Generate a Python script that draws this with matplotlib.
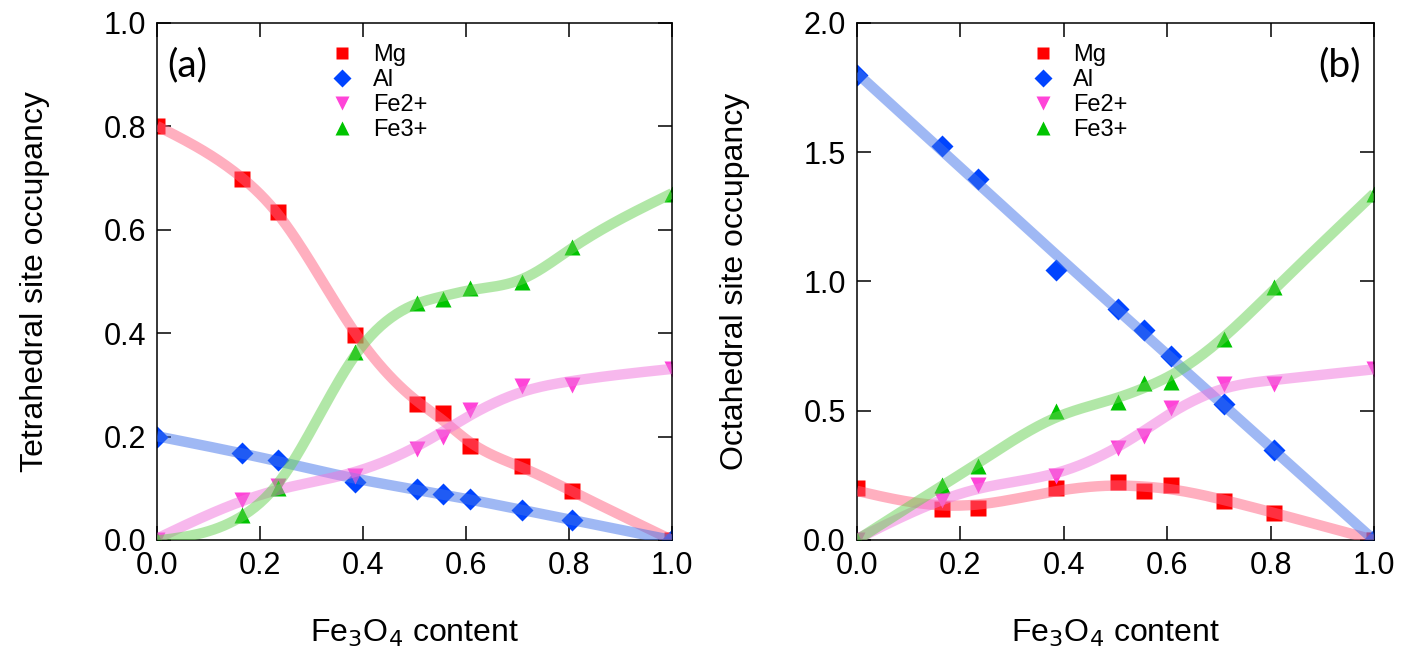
import numpy as np
import matplotlib
matplotlib.use("Agg")
import matplotlib.pyplot as plt

plt.rcParams['font.family'] = ['Liberation Sans', 'DejaVu Sans']

# Fe3O4 content of the samples
x = [0.0, 0.165, 0.235, 0.385, 0.505, 0.555, 0.607, 0.709, 0.806, 1.0]

# (a) tetrahedral site
tet_mg = [0.800, 0.699, 0.635, 0.397, 0.263, 0.245, 0.181, 0.143, 0.094, 0.0]
tet_al = [0.200, 0.168, 0.155, 0.113, 0.099, 0.089, 0.079, 0.058, 0.038, 0.0]
tet_fe2 = [0.0, 0.077, 0.105, 0.124, 0.175, 0.200, 0.252, 0.298, 0.300, 0.330]
tet_fe3 = [0.0, 0.048, 0.101, 0.364, 0.459, 0.466, 0.487, 0.499, 0.567, 0.670]

# (b) octahedral site
oct_mg = [0.200, 0.121, 0.125, 0.200, 0.223, 0.191, 0.212, 0.149, 0.103, 0.0]
oct_al = [1.800, 1.523, 1.397, 1.044, 0.894, 0.813, 0.710, 0.527, 0.347, 0.0]
oct_fe2 = [0.0, 0.156, 0.212, 0.246, 0.354, 0.402, 0.511, 0.604, 0.604, 0.660]
oct_fe3 = [0.0, 0.214, 0.285, 0.500, 0.532, 0.608, 0.612, 0.779, 0.977, 1.339]

names = ["Mg", "Al", "Fe2+", "Fe3+"]
markers = ["s", "D", "v", "^"]
msizes = [11, 11, 12, 12]
colors = ["#ff0000", "#0044ff", "#ff44d8", "#00c400"]
line_colors = ["#ff6080", "#4173eb", "#f173dd", "#65d151"]


def smooth_curve(xs, ys, lam):
    # penalised least squares on a fine grid -> smoothing spline like curve
    n = 201
    grid = np.linspace(0, 1, n)
    idx = np.rint(np.asarray(xs) * (n - 1)).astype(int)
    w = np.zeros(n)
    b = np.zeros(n)
    w[idx] = 1.0
    b[idx] = ys
    D = np.diff(np.eye(n), 2, axis=0)
    A = np.diag(w) + lam * D.T @ D
    return grid, np.linalg.solve(A, b)


def panel(ax, series, lams, ylim, yticks, ylabel, tag, tag_x, tag_ha):
    for i, ys in enumerate(series):
        ax.plot(x, ys, linestyle="none", marker=markers[i], ms=msizes[i],
                color=colors[i], mec="none", label=names[i], zorder=2)
    for i, ys in enumerate(series):
        gx, gy = smooth_curve(x, ys, lams[i])
        ax.plot(gx, gy, color=line_colors[i], lw=7.5, alpha=0.5,
                solid_capstyle="butt", zorder=3)
    ax.set_xlim(0, 1)
    ax.set_ylim(*ylim)
    ax.set_xticks([0, 0.2, 0.4, 0.6, 0.8, 1.0])
    ax.set_yticks(yticks)
    ax.tick_params(direction="in", length=10, width=1.1, labelsize=22,
                   top=True, right=True, pad=8)
    for s in ax.spines.values():
        s.set_linewidth(1.1)
    ax.set_xlabel("Fe$_3$O$_4$ content", fontsize=23, labelpad=26)
    ax.set_ylabel(ylabel, fontsize=23, labelpad=38)
    ax.text(tag_x, 0.917, tag, transform=ax.transAxes, fontsize=28,
            family=["Lato", "DejaVu Sans"], ha=tag_ha, va="center")
    ax.legend(loc="upper left", bbox_to_anchor=(0.30, 0.996), frameon=False,
              fontsize=17, handlelength=1.0, handletextpad=0.8,
              labelspacing=0.13, markerscale=0.85, borderpad=0.3)


fig = plt.figure(figsize=(14.03, 6.48), dpi=100)
ax1 = fig.add_axes([0.1119, 0.1667, 0.367, 0.798])
ax2 = fig.add_axes([0.6108, 0.1667, 0.3685, 0.798])

panel(ax1, [tet_mg, tet_al, tet_fe2, tet_fe3], [250, 5000, 2500, 250],
      (0, 1.0), [0, 0.2, 0.4, 0.6, 0.8, 1.0],
      "Tetrahedral site occupancy", "(a)", 0.02, "left")
panel(ax2, [oct_mg, oct_al, oct_fe2, oct_fe3], [3000, 200000, 1500, 1500],
      (0, 2.0), [0, 0.5, 1.0, 1.5, 2.0],
      "Octahedral site occupancy", "(b)", 0.975, "right")

fig.savefig("out.png", dpi=100)
